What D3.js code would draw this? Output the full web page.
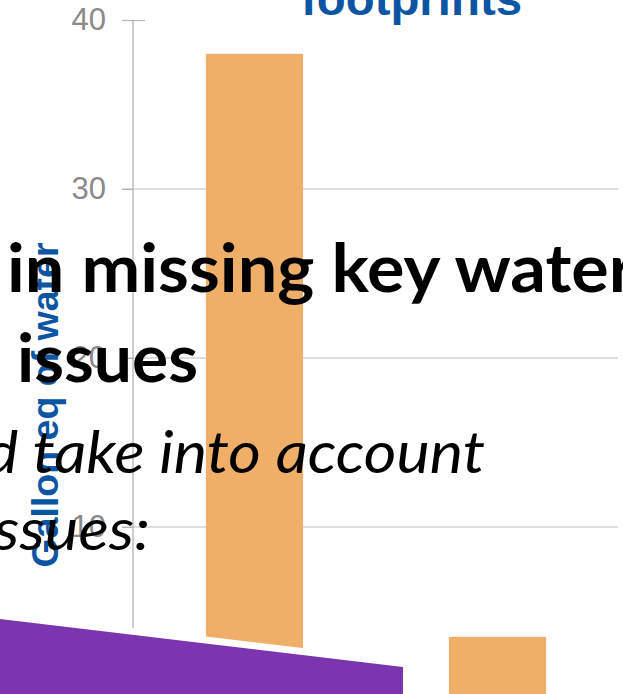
<!DOCTYPE html>
<html>
<head>
<meta charset="utf-8">
<script src="https://cdn.jsdelivr.net/npm/d3@7.9.0/dist/d3.min.js"></script>
<style>
  html, body { margin: 0; padding: 0; background: #fff; overflow: hidden; }
  svg { display: block; }
</style>
</head>
<body>
<svg id="chart" width="623" height="694"></svg>
<script>
// chart data
const categories = ['Option A', 'Option B'];
const values = [38, 3.5];
const yTicks = [10, 20, 30, 40];
const titleText = 'footprints';
const yLabel = 'Gallon eq of water';

// slide body text that sits over the chart
const boldLines = ['in missing key water', 'issues'];
const italicLines = ['d take into account', 'ssues:'];

const svg = d3.select('#chart');

const x = d3.scaleBand()
  .domain(categories)
  .range([133, 619])
  .paddingInner(0.6)
  .paddingOuter(0.3);

const y = d3.scaleLinear()
  .domain([0, 40])
  .range([696, 20]);

// gridlines (not at the top tick)
svg.append('g')
  .selectAll('line')
  .data(yTicks.filter((d) => d < 40))
  .join('line')
  .attr('x1', 122)
  .attr('x2', 618)
  .attr('y1', (d) => y(d))
  .attr('y2', (d) => y(d))
  .attr('stroke', '#bdbdbd')
  .attr('stroke-width', 1.2);

// y axis
const yAxis = svg.append('g')
  .attr('transform', 'translate(133,0)')
  .call(d3.axisLeft(y).tickValues(yTicks).tickSize(11).tickPadding(16));
yAxis.select('.domain').attr('stroke', '#b3b3b3').attr('stroke-width', 1.3)
  .attr('d', `M0,${y(40)}V${y(0)}`);
yAxis.selectAll('.tick line').attr('stroke', '#b3b3b3').attr('stroke-width', 1.2);
yAxis.selectAll('.tick')
  .filter((d) => d === 40)
  .append('line')
  .attr('x1', 0).attr('x2', 12)
  .attr('stroke', '#b3b3b3').attr('stroke-width', 1.2);
yAxis.selectAll('.tick text')
  .attr('fill', '#8a8a8a')
  .style('font-family', '"Liberation Sans", Arial, sans-serif')
  .style('font-size', '31px');

// bars
svg.append('g')
  .selectAll('rect')
  .data(values)
  .join('rect')
  .attr('x', (d, i) => x(categories[i]))
  .attr('width', x.bandwidth())
  .attr('y', (d) => y(d))
  .attr('height', (d) => y(0) - y(d))
  .attr('fill', '#efaf68');

// title (mostly above the frame)
svg.append('text')
  .attr('x', 301)
  .attr('y', 15)
  .attr('fill', '#0b55a3')
  .attr('textLength', 221)
  .attr('lengthAdjust', 'spacingAndGlyphs')
  .style('font-family', '"Liberation Sans", Arial, sans-serif')
  .style('font-weight', 'bold')
  .style('font-size', '47px')
  .text(titleText);

// y axis title
svg.append('text')
  .attr('transform', 'translate(58,405) rotate(-90)')
  .attr('text-anchor', 'middle')
  .attr('fill', '#0b55a3')
  .style('font-family', '"Liberation Sans", Arial, sans-serif')
  .style('font-weight', 'bold')
  .style('font-size', '36px')
  .attr('textLength', 325)
  .attr('lengthAdjust', 'spacingAndGlyphs')
  .text(yLabel);

// overlaid slide text
const boldPos = [
  { x: 7, y: 292, w: 628 },
  { x: 17, y: 382, w: 181 }
];
svg.append('g')
  .selectAll('text')
  .data(boldLines)
  .join('text')
  .attr('x', (d, i) => boldPos[i].x)
  .attr('y', (d, i) => boldPos[i].y)
  .attr('textLength', (d, i) => boldPos[i].w)
  .attr('lengthAdjust', 'spacingAndGlyphs')
  .style('font-family', 'Lato, "Open Sans", sans-serif')
  .style('font-weight', 'bold')
  .style('font-size', '66px')
  .attr('fill', '#000')
  .text((d) => d);

const italicPos = [
  { x: -15, y: 473, w: 500 },
  { x: -6, y: 550, w: 156 }
];
svg.append('g')
  .selectAll('text')
  .data(italicLines)
  .join('text')
  .attr('x', (d, i) => italicPos[i].x)
  .attr('y', (d, i) => italicPos[i].y)
  .attr('textLength', (d, i) => italicPos[i].w)
  .attr('lengthAdjust', 'spacingAndGlyphs')
  .style('font-family', 'Lato, "Open Sans", sans-serif')
  .style('font-style', 'italic')
  .style('font-size', '58px')
  .attr('fill', '#000')
  .text((d) => d);

// slide footer shapes: white strip then purple band
svg.append('polygon')
  .attr('points', '0,612 403,660 403,700 0,700')
  .attr('fill', '#fff');
svg.append('polygon')
  .attr('points', '0,619 403,667 403,700 0,700')
  .attr('fill', '#7b35ae');
</script>
</body>
</html>
